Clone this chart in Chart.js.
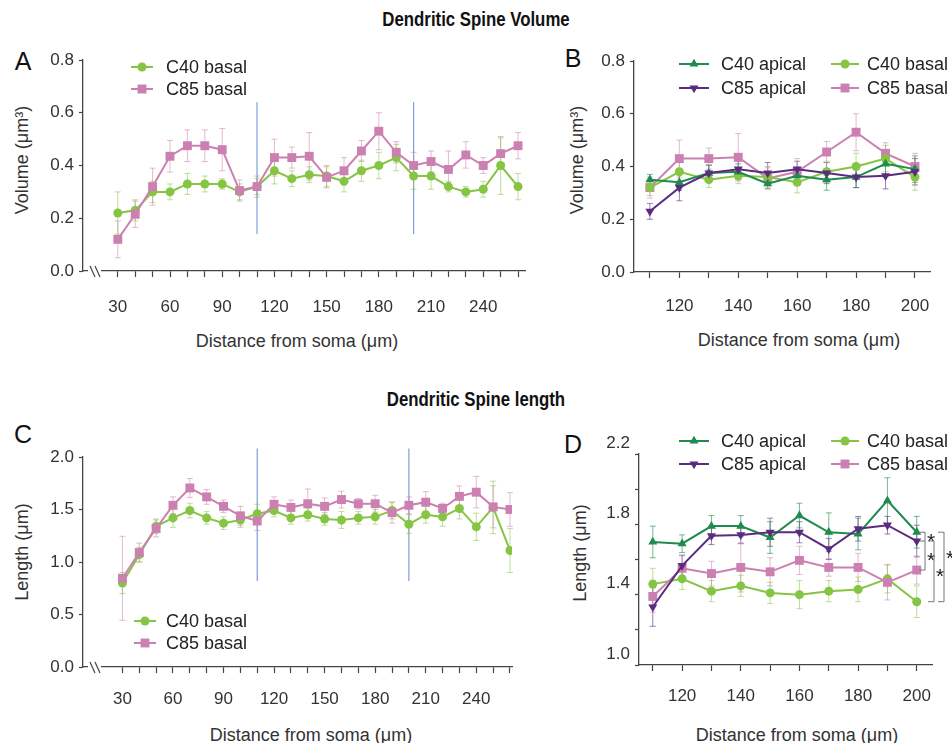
<!DOCTYPE html>
<html>
<head>
<meta charset="utf-8">
<script src="https://cdn.jsdelivr.net/npm/chart.js@4.4.1/dist/chart.umd.min.js"></script>
<style>
  body { margin: 0; background: #fff; }
  #page { position: relative; width: 952px; height: 743px; overflow: hidden; font-family: "Liberation Sans", Arial, sans-serif; color: #222; }
  canvas { position: absolute; }
  .t { position: absolute; white-space: nowrap; line-height: 1; transform: translate(-50%, -50%); }
  .main { font-family: "Liberation Sans", Arial, sans-serif; font-weight: bold; font-size: 20px; color: #111; transform: translate(-50%, -50%) scaleX(0.84); }
  .letter { font-size: 25px; color: #111; }
  .axt { font-size: 18px; color: #333; }
  .rot { transform: translate(-50%, -50%) rotate(-90deg); }
</style>
</head>
<body>
<div id="page">
  <div class="t main" style="left:476px;top:19px">Dendritic Spine Volume</div>
  <div class="t main" style="left:476px;top:399px">Dendritic Spine length</div>

  <div class="t letter" style="left:23px;top:61px">A</div>
  <div class="t letter" style="left:573px;top:58px">B</div>
  <div class="t letter" style="left:23px;top:434px">C</div>
  <div class="t letter" style="left:573px;top:444px">D</div>

  <div class="t axt rot" style="left:22px;top:160px">Volume (μm³)</div>
  <div class="t axt rot" style="left:577px;top:160px">Volume (μm³)</div>
  <div class="t axt rot" style="left:22px;top:552px">Length (μm)</div>
  <div class="t axt rot" style="left:580px;top:553px">Length (μm)</div>

  <div class="t axt" style="left:297px;top:341px">Distance from soma (μm)</div>
  <div class="t axt" style="left:799px;top:340px">Distance from soma (μm)</div>
  <div class="t axt" style="left:311px;top:735px">Distance from soma (μm)</div>
  <div class="t axt" style="left:797px;top:735px">Distance from soma (μm)</div>

  <canvas id="chartA"></canvas>
  <canvas id="chartB"></canvas>
  <canvas id="chartC"></canvas>
  <canvas id="chartD"></canvas>
</div>

<script>
// distances from soma (µm)
const basalDist = [30, 40, 50, 60, 70, 80, 90, 100, 110, 120, 130, 140, 150, 160, 170, 180, 190, 200, 210, 220, 230, 240, 250, 260];
const apicalDist = [110, 120, 130, 140, 150, 160, 170, 180, 190, 200];
const basalXLabels = [30, 60, 90, 120, 150, 180, 210, 240];
const apicalXLabels = [120, 140, 160, 180, 200];

const volYTicks = [0, 0.2, 0.4, 0.6, 0.8];
const volYLabels = ["0.0", "0.2", "0.4", "0.6", "0.8"];
const lenYTicksC = [0, 0.5, 1.0, 1.5, 2.0];
const lenYLabelsC = ["0.0", "0.5", "1.0", "1.5", "2.0"];
const lenYTicksD = [1.0, 1.2, 1.4, 1.6, 1.8, 2.0, 2.2];
const lenYLabelsD = ["1.0", "", "1.4", "", "1.8", "", "2.2"];

// spine volume (µm³), basal dendrites 30-260 µm
const volC40Basal    = [0.22, 0.23, 0.30, 0.30, 0.33, 0.33, 0.33, 0.30, 0.32, 0.38, 0.35, 0.365, 0.36, 0.34, 0.38, 0.40, 0.43, 0.36, 0.36, 0.32, 0.30, 0.31, 0.40, 0.32];
const volC40BasalErr = [0.08, 0.04, 0.04, 0.03, 0.04, 0.03, 0.02, 0.03, 0.03, 0.05, 0.03, 0.03, 0.04, 0.04, 0.04, 0.05, 0.05, 0.05, 0.05, 0.02, 0.02, 0.03, 0.11, 0.05];
const volC85Basal    = [0.12, 0.215, 0.32, 0.435, 0.475, 0.475, 0.46, 0.305, 0.32, 0.43, 0.43, 0.435, 0.355, 0.38, 0.455, 0.53, 0.45, 0.40, 0.415, 0.385, 0.44, 0.40, 0.445, 0.475];
const volC85BasalErr = [0.07, 0.05, 0.07, 0.06, 0.06, 0.06, 0.08, 0.04, 0.04, 0.07, 0.04, 0.09, 0.04, 0.05, 0.04, 0.07, 0.04, 0.05, 0.04, 0.07, 0.05, 0.03, 0.06, 0.05];

// spine volume, apical dendrites 110-200 µm
const volC40Apical    = [0.35, 0.34, 0.375, 0.38, 0.335, 0.365, 0.35, 0.36, 0.41, 0.39];
const volC40ApicalErr = [0.02, 0.03, 0.03, 0.03, 0.02, 0.03, 0.04, 0.04, 0.05, 0.05];
const volC85Apical    = [0.23, 0.32, 0.375, 0.39, 0.375, 0.39, 0.375, 0.36, 0.365, 0.38];
const volC85ApicalErr = [0.03, 0.05, 0.03, 0.03, 0.04, 0.03, 0.04, 0.04, 0.05, 0.05];

// spine length (µm), basal dendrites 30-260 µm
const lenC40Basal    = [0.80, 1.07, 1.34, 1.42, 1.49, 1.42, 1.37, 1.40, 1.46, 1.49, 1.42, 1.45, 1.41, 1.40, 1.42, 1.43, 1.49, 1.36, 1.45, 1.43, 1.51, 1.335, 1.52, 1.11];
const lenC40BasalErr = [0.10, 0.07, 0.07, 0.09, 0.07, 0.06, 0.06, 0.07, 0.09, 0.06, 0.06, 0.06, 0.06, 0.08, 0.06, 0.07, 0.08, 0.09, 0.08, 0.09, 0.10, 0.13, 0.25, 0.21];
const lenC85Basal    = [0.845, 1.09, 1.32, 1.54, 1.705, 1.62, 1.53, 1.44, 1.39, 1.55, 1.52, 1.555, 1.53, 1.595, 1.555, 1.555, 1.47, 1.54, 1.57, 1.51, 1.625, 1.665, 1.525, 1.50];
const lenC85BasalErr = [0.40, 0.09, 0.08, 0.08, 0.09, 0.07, 0.06, 0.09, 0.09, 0.07, 0.07, 0.14, 0.08, 0.08, 0.05, 0.08, 0.10, 0.08, 0.10, 0.05, 0.10, 0.15, 0.20, 0.16];

// spine length, apical dendrites 110-200 µm
const lenC40Apical    = [1.70, 1.69, 1.79, 1.79, 1.725, 1.85, 1.755, 1.745, 1.935, 1.755];
const lenC40ApicalErr = [0.09, 0.05, 0.06, 0.06, 0.09, 0.07, 0.11, 0.09, 0.13, 0.09];
const lenC85Apical    = [1.33, 1.565, 1.735, 1.74, 1.755, 1.755, 1.66, 1.775, 1.795, 1.705];
const lenC85ApicalErr = [0.11, 0.06, 0.05, 0.05, 0.08, 0.06, 0.06, 0.07, 0.05, 0.09];

// basal points that fall in the apical range (110-200 µm)
const overlap = [basalDist.indexOf(110), basalDist.indexOf(200) + 1];

const FONT = '"Liberation Sans", Arial, sans-serif';
const AXIS = "#444";
const BLUE = "#7d9fd6";

const styles = {
  "C40 basal":  { color: "#86c443", err: "rgba(134,196,67,0.55)", pointStyle: "circle",   radius: 4.5, rotation: 0 },
  "C85 basal":  { color: "#cc80b1", err: "rgba(204,128,177,0.55)", pointStyle: "rect",     radius: 6.3, rotation: 0 },
  "C40 apical": { color: "#1f8b4c", err: "rgba(31,139,76,0.6)",    pointStyle: "triangle", radius: 5.2, rotation: 0 },
  "C85 apical": { color: "#5b2b80", err: "rgba(91,43,128,0.6)",    pointStyle: "triangle", radius: 5.2, rotation: 180 },
};

function series(label, dist, vals, errs) {
  const s = styles[label];
  return {
    label,
    data: dist.map((d, i) => ({ x: d, y: vals[i] })),
    errorBars: errs,
    errorColor: s.err,
    borderColor: s.color,
    backgroundColor: s.color,
    pointBackgroundColor: s.color,
    pointBorderColor: s.color,
    pointBorderWidth: 0,
    pointStyle: s.pointStyle,
    pointRadius: s.radius,
    pointRotation: s.rotation,
    borderWidth: 2,
    tension: 0,
    fill: false,
  };
}

const errorBarPlugin = {
  id: "errorBars",
  beforeDatasetsDraw(chart) {
    const { ctx, scales: { x, y } } = chart;
    chart.data.datasets.forEach((ds) => {
      if (!ds.errorBars) return;
      ctx.save();
      ctx.strokeStyle = ds.errorColor;
      ctx.lineWidth = 1;
      ds.data.forEach((p, i) => {
        const e = ds.errorBars[i];
        const px = x.getPixelForValue(p.x);
        const top = y.getPixelForValue(p.y + e);
        const bot = y.getPixelForValue(p.y - e);
        ctx.beginPath();
        ctx.moveTo(px, top); ctx.lineTo(px, bot);
        ctx.moveTo(px - 3, top); ctx.lineTo(px + 3, top);
        ctx.moveTo(px - 3, bot); ctx.lineTo(px + 3, bot);
        ctx.stroke();
      });
      ctx.restore();
    });
  },
};

const markerLinePlugin = {
  id: "markerLines",
  beforeDatasetsDraw(chart, args, opts) {
    if (!opts.at) return;
    const { ctx, scales: { x, y } } = chart;
    ctx.save();
    ctx.strokeStyle = BLUE;
    ctx.lineWidth = 1.2;
    opts.at.forEach((v) => {
      const px = x.getPixelForValue(v);
      ctx.beginPath();
      ctx.moveTo(px, y.getPixelForValue(opts.to));
      ctx.lineTo(px, y.getPixelForValue(opts.from));
      ctx.stroke();
    });
    ctx.restore();
  },
};

const axisBreakPlugin = {
  id: "axisBreak",
  afterDraw(chart, args, opts) {
    if (!opts.show) return;
    const { ctx, chartArea: a } = chart;
    const b = a.bottom;
    ctx.save();
    ctx.fillStyle = "#fff";
    ctx.fillRect(a.left + 5, b - 2, 13, 4);
    ctx.strokeStyle = AXIS;
    ctx.lineWidth = 1.2;
    ctx.beginPath();
    ctx.moveTo(a.left + 7, b - 5); ctx.lineTo(a.left + 12, b + 6);
    ctx.moveTo(a.left + 12, b - 5); ctx.lineTo(a.left + 17, b + 6);
    ctx.stroke();
    ctx.restore();
  },
};

const panelLegendPlugin = {
  id: "panelLegend",
  afterDraw(chart, args, opts) {
    if (!opts.items) return;
    const ctx = chart.ctx;
    ctx.save();
    opts.items.forEach((it) => {
      const s = styles[it.label];
      ctx.strokeStyle = s.color;
      ctx.fillStyle = s.color;
      ctx.lineWidth = 2;
      ctx.beginPath();
      ctx.moveTo(it.x - it.half, it.y);
      ctx.lineTo(it.x + it.half, it.y);
      ctx.stroke();
      Chart.helpers.drawPoint(ctx, { pointStyle: s.pointStyle, radius: s.radius, rotation: s.rotation, borderWidth: 0 }, it.x, it.y);
      ctx.fillStyle = "#222";
      ctx.font = "18px " + FONT;
      ctx.textBaseline = "middle";
      ctx.textAlign = "left";
      ctx.fillText(it.label, it.x + it.dx, it.y + 1);
    });
    ctx.restore();
  },
};

const bracketPlugin = {
  id: "sigBrackets",
  afterDraw(chart, args, opts) {
    if (!opts.items) return;
    const { ctx, chartArea: a, scales: { y } } = chart;
    const lastY = (label) => {
      const ds = chart.data.datasets.find((d) => d.label === label);
      return y.getPixelForValue(ds.data[ds.data.length - 1].y);
    };
    ctx.save();
    ctx.strokeStyle = "#777";
    ctx.lineWidth = 1;
    ctx.fillStyle = "#222";
    ctx.font = "21px " + FONT;
    ctx.textAlign = "center";
    ctx.textBaseline = "middle";
    opts.items.forEach((b) => {
      const x = a.right + b.dx;
      const y1 = lastY(b.top), y2 = lastY(b.bottom);
      ctx.beginPath();
      ctx.moveTo(x - 6, y1); ctx.lineTo(x, y1); ctx.lineTo(x, y2); ctx.lineTo(x - 6, y2);
      let ym = null;
      if (b.mid) { ym = lastY(b.mid); ctx.moveTo(x - 6, ym); ctx.lineTo(x, ym); }
      ctx.stroke();
      const stars = b.mid ? [(y1 + ym) / 2, (ym + y2) / 2] : [y1 + (y2 - y1) * b.at];
      stars.forEach((sy) => ctx.fillText("*", x + 6, sy + 6));
    });
    ctx.restore();
  },
};

function makePanel(id, box, area, xCfg, yCfg, datasets, pluginOpts) {
  const YW = 50, XH = 56;
  const canvas = document.getElementById(id);
  canvas.width = box.w;
  canvas.height = box.h;
  canvas.style.left = box.x + "px";
  canvas.style.top = box.y + "px";
  const tickFont = { family: FONT, size: 17 };
  return new Chart(canvas, {
    type: "line",
    data: { datasets },
    options: {
      responsive: false,
      animation: false,
      events: [],
      layout: {
        padding: {
          left: area.left - box.x - YW,
          top: area.top - box.y,
          right: box.x + box.w - area.right,
          bottom: box.y + box.h - area.bottom - XH,
        },
      },
      plugins: Object.assign({ legend: { display: false }, tooltip: { enabled: false } }, pluginOpts),
      scales: {
        x: {
          type: "linear",
          bounds: "data",
          min: xCfg.min,
          max: xCfg.max,
          afterBuildTicks: (s) => { s.ticks = xCfg.ticks.map((v) => ({ value: v })); },
          afterFit: (s) => { s.height = XH; },
          ticks: {
            autoSkip: false,
            maxRotation: 0,
            padding: xCfg.pad,
            color: "#333",
            font: tickFont,
            callback: (v) => (xCfg.labels.includes(v) ? String(v) : ""),
          },
          grid: { drawOnChartArea: false, drawTicks: true, tickLength: 6, tickColor: AXIS, tickWidth: 1.2 },
          border: { color: AXIS, width: 1.3 },
        },
        y: {
          type: "linear",
          bounds: "data",
          min: yCfg.ticks[0],
          max: yCfg.ticks[yCfg.ticks.length - 1],
          afterBuildTicks: (s) => { s.ticks = yCfg.ticks.map((v) => ({ value: v })); },
          afterFit: (s) => { s.width = YW; },
          ticks: {
            padding: 5,
            labelOffset: yCfg.labelOffset || 0,
            color: "#333",
            font: tickFont,
            callback: (v, i) => yCfg.labels[i],
          },
          grid: { drawOnChartArea: false, drawTicks: true, tickLength: 4, tickColor: AXIS, tickWidth: 1.2 },
          border: { color: AXIS, width: 1.3 },
        },
      },
    },
    plugins: [markerLinePlugin, errorBarPlugin, axisBreakPlugin, panelLegendPlugin, bracketPlugin],
  });
}

const sl = (arr) => arr.slice(overlap[0], overlap[1]);

// A: spine volume, basal
const boxA = { x: 0, y: 30, w: 545, h: 340 };
makePanel("chartA", boxA, { left: 83, right: 525, top: 60, bottom: 271 },
  { min: 10, max: 264, ticks: basalDist, labels: basalXLabels, pad: 20 },
  { ticks: volYTicks, labels: volYLabels },
  [
    series("C85 basal", basalDist, volC85Basal, volC85BasalErr),
    series("C40 basal", basalDist, volC40Basal, volC40BasalErr),
  ],
  {
    markerLines: { at: [110, 200], from: 0.14, to: 0.64 },
    axisBreak: { show: true },
    panelLegend: { items: [
      { label: "C40 basal", x: 142 - boxA.x, y: 67 - boxA.y, half: 11, dx: 24 },
      { label: "C85 basal", x: 142 - boxA.x, y: 89 - boxA.y, half: 11, dx: 24 },
    ] },
  });

// B: spine volume, apical vs basal
const boxB = { x: 545, y: 30, w: 407, h: 340 };
makePanel("chartB", boxB, { left: 634, right: 930, top: 61, bottom: 272 },
  { min: 104.6, max: 205.1, ticks: apicalDist, labels: apicalXLabels, pad: 18 },
  { ticks: volYTicks, labels: volYLabels },
  [
    series("C85 apical", apicalDist, volC85Apical, volC85ApicalErr),
    series("C40 apical", apicalDist, volC40Apical, volC40ApicalErr),
    series("C40 basal", apicalDist, sl(volC40Basal), sl(volC40BasalErr)),
    series("C85 basal", apicalDist, sl(volC85Basal), sl(volC85BasalErr)),
  ],
  {
    panelLegend: { items: [
      { label: "C40 apical", x: 694 - boxB.x, y: 64 - boxB.y, half: 15, dx: 27 },
      { label: "C85 apical", x: 694 - boxB.x, y: 88 - boxB.y, half: 15, dx: 27 },
      { label: "C40 basal",  x: 845 - boxB.x, y: 64 - boxB.y, half: 14, dx: 22 },
      { label: "C85 basal",  x: 845 - boxB.x, y: 88 - boxB.y, half: 14, dx: 22 },
    ] },
  });

// C: spine length, basal
const boxC = { x: 0, y: 410, w: 545, h: 333 };
makePanel("chartC", boxC, { left: 83, right: 512, top: 457, bottom: 667 },
  { min: 6.6, max: 261.2, ticks: basalDist, labels: basalXLabels, pad: 16 },
  { ticks: lenYTicksC, labels: lenYLabelsC },
  [
    series("C85 basal", basalDist, lenC85Basal, lenC85BasalErr),
    series("C40 basal", basalDist, lenC40Basal, lenC40BasalErr),
  ],
  {
    markerLines: { at: [110, 200], from: 0.82, to: 2.08 },
    axisBreak: { show: true },
    panelLegend: { items: [
      { label: "C40 basal", x: 145 - boxC.x, y: 621 - boxC.y, half: 11, dx: 21 },
      { label: "C85 basal", x: 145 - boxC.x, y: 643 - boxC.y, half: 11, dx: 21 },
    ] },
  });

// D: spine length, apical vs basal
const boxD = { x: 545, y: 410, w: 407, h: 333 };
makePanel("chartD", boxD, { left: 639, right: 932, top: 454, bottom: 665 },
  { min: 105.3, max: 205.2, ticks: apicalDist, labels: apicalXLabels, pad: 15 },
  { ticks: lenYTicksD, labels: lenYLabelsD, labelOffset: -11 },
  [
    series("C85 apical", apicalDist, lenC85Apical, lenC85ApicalErr),
    series("C40 apical", apicalDist, lenC40Apical, lenC40ApicalErr),
    series("C85 basal", apicalDist, sl(lenC85Basal), sl(lenC85BasalErr)),
    series("C40 basal", apicalDist, sl(lenC40Basal), sl(lenC40BasalErr)),
  ],
  {
    panelLegend: { items: [
      { label: "C40 apical", x: 694 - boxD.x, y: 441 - boxD.y, half: 15, dx: 27 },
      { label: "C85 apical", x: 694 - boxD.x, y: 464 - boxD.y, half: 15, dx: 27 },
      { label: "C40 basal",  x: 845 - boxD.x, y: 441 - boxD.y, half: 14, dx: 22 },
      { label: "C85 basal",  x: 845 - boxD.x, y: 464 - boxD.y, half: 14, dx: 22 },
    ] },
    sigBrackets: { items: [
      { top: "C40 apical", mid: "C85 apical", bottom: "C85 basal", dx: -7 },
      { top: "C85 apical", bottom: "C40 basal", dx: 2, at: 0.5 },
      { top: "C40 apical", bottom: "C40 basal", dx: 12, at: 0.3 },
    ] },
  });
</script>
</body>
</html>
